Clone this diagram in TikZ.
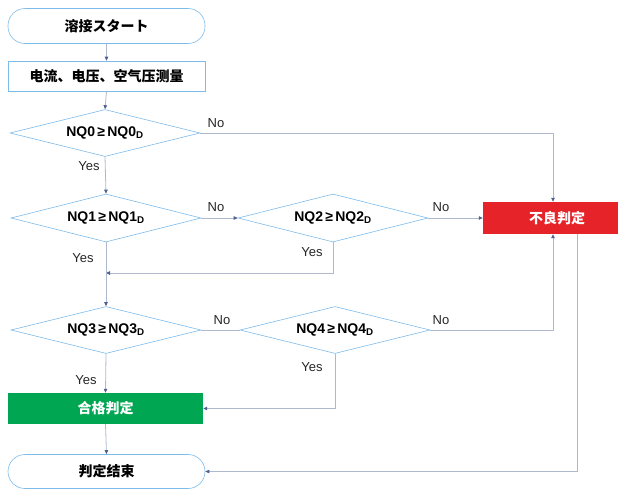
\documentclass[tikz,border=0pt]{standalone}
\usepackage{fontspec}
\setmainfont{Liberation Sans}
\newfontfamily\cjk{Noto Sans CJK SC}
\usetikzlibrary{shapes.geometric,arrows.meta}
\definecolor{outl}{HTML}{7DBBEA}
\definecolor{conn}{HTML}{AEB9CE}
\definecolor{tipc}{HTML}{4F6090}
\definecolor{ngred}{HTML}{E52329}
\definecolor{okgreen}{HTML}{00A651}
\begin{document}
\begin{tikzpicture}[x=1pt,y=-1pt,
  term/.style={draw=outl, line width=0.6pt, rounded corners=17pt, minimum width=197pt, minimum height=35pt, inner sep=0pt, font=\cjk\bfseries\fontsize{14}{16}\selectfont},
  procbox/.style={draw=outl, line width=0.6pt, minimum width=197pt, minimum height=30pt, inner sep=0pt, font=\cjk\bfseries\fontsize{14}{16}\selectfont},
  decis/.style={diamond, draw=outl, line width=0.6pt, minimum width=190pt, minimum height=47pt, aspect=4, inner sep=0pt, font=\bfseries\fontsize{14}{16}\selectfont},
  resbox/.style={minimum height=32pt, inner sep=0pt, text=white, font=\cjk\bfseries\fontsize{14}{16}\selectfont},
  conline/.style={draw=conn, line width=0.8pt},
  arr/.style={conline, -{Triangle[length=4pt,width=3.5pt,color=tipc]}},
  lbl/.style={font=\fontsize{13}{15}\selectfont, text=black!85, inner sep=0pt}
]
\useasboundingbox (0,0) rectangle (618,488);
% nodes
\node[term] (start) at (106.5,26) {溶接スタート};
\node[procbox] (meas) at (106.5,76) {电流、电压、空气压测量};
\node[decis] (d0) at (105,133) {NQ0\,≥\,NQ0\textsubscript{D}};
\node[decis, minimum height=48pt] (d1) at (106,218) {NQ1\,≥\,NQ1\textsubscript{D}};
\node[decis, minimum height=48pt] (d2) at (333,218) {NQ2\,≥\,NQ2\textsubscript{D}};
\node[resbox, fill=ngred, minimum width=148pt] (ng) at (557,218) {不良判定};
\node[decis] (d3) at (106,330) {NQ3\,≥\,NQ3\textsubscript{D}};
\node[decis] (d4) at (335,330) {NQ4\,≥\,NQ4\textsubscript{D}};
\node[resbox, fill=okgreen, minimum width=195pt, minimum height=31pt] (ok) at (105.5,408.5) {合格判定};
\node[term, minimum height=34pt] (fin) at (106.5,471.5) {判定结束};
\coordinate (j) at (106,273);
% connectors
\draw[arr] (start.south) -- (meas.north);
\draw[arr] (meas.south) -- (d0.north);
\draw[arr] (d0.east) -| ([xshift=-4pt]ng.north);
\draw[arr] (d0.south) -- (d1.north);
\draw[arr] (d1.east) -- (d2.west);
\draw[arr] (d2.east) -- (ng.west);
\draw[arr] (d2.south) |- (j);
\draw[arr] (d1.south) -- (d3.north);
\draw[conline] (d3.east) -- (d4.west);
\draw[arr] (d4.east) -| ([xshift=-4pt]ng.south);
\draw[arr] (d4.south) |- (ok.east);
\draw[arr] (d3.south) -- (ok.north);
\draw[arr] (ok.south) -- (fin.north);
\draw[arr] ([xshift=20pt]ng.south) |- (fin.east);
% labels
\node[lbl] (l0n) at (216,123) {No};
\node[lbl] (l0y) at (89,166) {Yes};
\node[lbl] (l1n) at (216,207) {No};
\node[lbl] (l1y) at (83,258) {Yes};
\node[lbl] (l2n) at (441,207) {No};
\node[lbl] (l2y) at (312,252) {Yes};
\node[lbl] (l3n) at (222,320) {No};
\node[lbl] (l3y) at (86,380) {Yes};
\node[lbl] (l4n) at (441,320) {No};
\node[lbl] (l4y) at (312,367) {Yes};
\end{tikzpicture}
\end{document}
